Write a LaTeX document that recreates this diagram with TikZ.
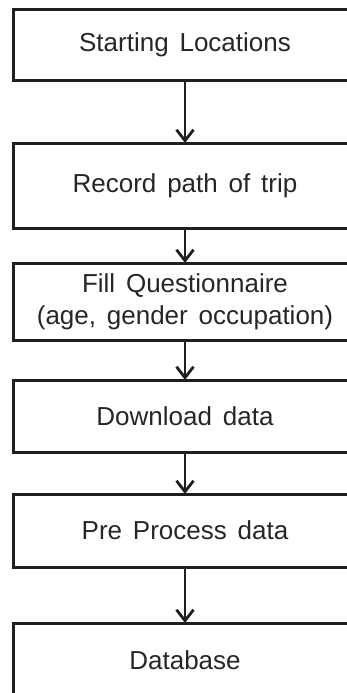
\documentclass[tikz,border=0pt]{standalone}
\usepackage{fontspec}
\setmainfont[WordSpace=1.5]{Liberation Sans}
\usetikzlibrary{arrows.meta}
\begin{document}
\begin{tikzpicture}[x=1pt,y=-1pt,
  stepbox/.style={draw=black!88, line width=3pt, rectangle, inner sep=0pt, outer sep=0pt,
    minimum width=344pt, text=black!85, align=center,
    font=\fontsize{26}{32}\selectfont},
  flow/.style={draw=black!88, line width=2.8pt,
    -{Straight Barb[length=11pt, width=17pt, line width=2.8pt]}}]
  \useasboundingbox (0,0) rectangle (347,693);
  \clip (0,0) rectangle (347,693);
  \node[stepbox, minimum height=70pt] (s1) at (185,45) {Starting Locations};
  \node[stepbox, minimum height=85pt] (s2) at (185,185.5) {Record path of trip};
  \node[stepbox, minimum height=77pt] (s3) at (185,301.5) {Fill Questionnaire\\(age, gender occupation)};
  \node[stepbox, minimum height=72pt] (s4) at (185,416) {Download data};
  \node[stepbox, minimum height=73pt] (s5) at (185,530.5) {Pre Process data};
  \node[stepbox, minimum height=74pt] (s6) at (185,660) {Database};
  \draw[flow] (s1) -- (s2);
  \draw[flow] (s2) -- (s3);
  \draw[flow] (s3) -- (s4);
  \draw[flow] (s4) -- (s5);
  \draw[flow] (s5) -- (s6);
\end{tikzpicture}
\end{document}
